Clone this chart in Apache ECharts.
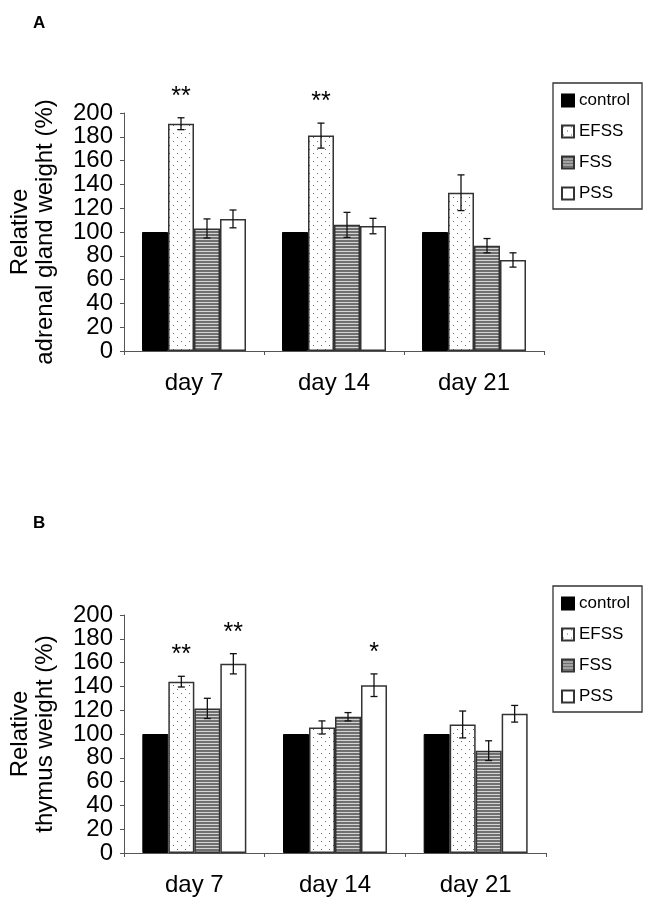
<!DOCTYPE html>
<html>
<head>
<meta charset="utf-8">
<script src="https://cdn.jsdelivr.net/npm/echarts@6/dist/echarts.min.js"></script>
<style>html,body{margin:0;padding:0;background:#fff}#c{width:650px;height:908px}</style>
</head>
<body>
<div id="c"></div>
<script>
// ---------- data ----------
const categories = ['day 7', 'day 14', 'day 21'];
const seriesNames = ['control', 'EFSS', 'FSS', 'PSS'];
const yTicks = [0, 20, 40, 60, 80, 100, 120, 140, 160, 180, 200];

// Panel A: relative adrenal gland weight (%)
const A_control = [100, 100, 100];
const A_EFSS = [191, 181, 133];
const A_EFSS_err = [5, 10.5, 15];
const A_FSS = [103, 106, 88.5];
const A_FSS_err = [8, 10.5, 6];
const A_PSS = [111, 105, 76.5];
const A_PSS_err = [7.5, 6.5, 6];
const A_EFSS_sig = ['**', '**', ''];
const A_FSS_sig = ['', '', ''];
const A_PSS_sig = ['', '', ''];

// Panel B: relative thymus weight (%)
const B_control = [100, 100, 100];
const B_EFSS = [144, 105.5, 108];
const B_EFSS_err = [4.5, 5.5, 11.3];
const B_FSS = [121.5, 114.5, 86];
const B_FSS_err = [8.5, 3.5, 8.3];
const B_PSS = [159, 141, 117];
const B_PSS_err = [8.5, 9.5, 7];
const B_EFSS_sig = ['**', '', ''];
const B_FSS_sig = ['', '', ''];
const B_PSS_sig = ['**', '*', ''];

// ---------- styles ----------
const FONT = '"Liberation Sans", Arial, sans-serif';
const BAR_W = 26;
const AXIS_COLOR = '#555';

function makeDots() {
  const c = document.createElement('canvas');
  c.width = 8; c.height = 8;
  const g = c.getContext('2d');
  g.fillStyle = '#fff'; g.fillRect(0, 0, 8, 8);
  g.fillStyle = '#6a6a6a';
  g.fillRect(1, 1, 1, 1);
  g.fillRect(5, 5, 1, 1);
  return c;
}
function makeStripes() {
  const c = document.createElement('canvas');
  c.width = 4; c.height = 3;
  const g = c.getContext('2d');
  g.fillStyle = '#d4d4d4'; g.fillRect(0, 0, 4, 3);
  g.fillStyle = '#707070'; g.fillRect(0, 0, 4, 2);
  return c;
}
const dotPattern = { image: makeDots(), repeat: 'repeat' };
const stripePattern = { image: makeStripes(), repeat: 'repeat' };

const barStyles = [
  { color: '#000', borderColor: '#000', borderWidth: 1 },
  { color: dotPattern, borderColor: '#333', borderWidth: 1.5 },
  { color: stripePattern, borderColor: '#333', borderWidth: 1.5 },
  { color: '#fff', borderColor: '#333', borderWidth: 1.5 }
];

function barSeries(panel, values) {
  return values.map((vals, k) => ({
    name: seriesNames[k],
    type: 'bar',
    xAxisIndex: panel, yAxisIndex: panel,
    barWidth: BAR_W, barGap: '0%',
    data: vals,
    itemStyle: barStyles[k],
    emphasis: { disabled: true },
    animation: false
  }));
}

function errSeries(panel, groups) {
  const data = [];
  const sigs = [];
  groups.forEach(gr => {
    gr.vals.forEach((v, i) => {
      data.push([i, v, gr.errs[i], gr.k]);
      sigs.push(gr.sigs[i]);
    });
  });
  return {
    type: 'custom',
    xAxisIndex: panel, yAxisIndex: panel,
    z: 5,
    animation: false,
    silent: true,
    encode: { x: 0, y: 1 },
    data: data,
    renderItem: function (params, api) {
      const c = api.value(0), v = api.value(1), e = api.value(2), k = api.value(3);
      const off = (k - 1.5) * BAR_W;
      const t = api.coord([c, v + e]);
      const b = api.coord([c, v - e]);
      const x = t[0] + off;
      const cap = 3.5;
      const ls = { stroke: '#111', lineWidth: 1.3 };
      const children = [
        { type: 'line', shape: { x1: x, y1: t[1], x2: x, y2: b[1] }, style: ls },
        { type: 'line', shape: { x1: x - cap, y1: t[1], x2: x + cap, y2: t[1] }, style: ls },
        { type: 'line', shape: { x1: x - cap, y1: b[1], x2: x + cap, y2: b[1] }, style: ls }
      ];
      const s = sigs[params.dataIndex];
      if (s) {
        children.push({
          type: 'text', x: x, y: t[1] - 21,
          style: { text: s, fill: '#000', fontSize: 25, fontFamily: FONT, align: 'center', verticalAlign: 'middle' }
        });
      }
      return { type: 'group', children: children };
    }
  };
}

function xAxis(panel) {
  return {
    type: 'category', gridIndex: panel, data: categories,
    axisLine: { lineStyle: { color: AXIS_COLOR, width: 1 } },
    axisTick: { show: true, length: 4, alignWithLabel: false, lineStyle: { color: AXIS_COLOR } },
    axisLabel: { color: '#000', fontSize: 24, fontFamily: FONT, margin: 20 },
    splitLine: { show: false }
  };
}
// value axis carrying the bars, the axis line, ticks and the name
function yAxis(panel, name) {
  return {
    type: 'value', gridIndex: panel, min: yTicks[0], max: yTicks[yTicks.length - 1], interval: 20,
    name: name, nameLocation: 'middle', nameGap: 66,
    nameTextStyle: { color: '#000', fontSize: 24, lineHeight: 25, fontFamily: FONT },
    axisLine: { show: true, lineStyle: { color: AXIS_COLOR, width: 1 } },
    axisTick: { show: true, length: 4, lineStyle: { color: AXIS_COLOR } },
    axisLabel: { show: false },
    splitLine: { show: false }
  };
}
// companion axis on the same grid that shows every tick label (no overlap hiding)
function yLabelAxis(panel) {
  return {
    type: 'category', gridIndex: panel, data: yTicks.map(String), boundaryGap: false,
    position: 'left', offset: 0,
    axisLine: { show: false },
    axisTick: { show: false },
    axisLabel: { interval: 0, color: '#000', fontSize: 24, fontFamily: FONT, margin: 11 },
    splitLine: { show: false }
  };
}
function legend(top) {
  return {
    data: seriesNames, orient: 'vertical', left: 553, top: top,
    icon: 'rect', itemWidth: 12, itemHeight: 12, itemGap: 14,
    padding: [9, 12, 7, 8],
    borderColor: '#333', borderWidth: 1.3,
    textStyle: { color: '#000', fontSize: 17, fontFamily: FONT },
    selectedMode: false
  };
}

const option = {
  backgroundColor: '#fff',
  animation: false,
  title: [
    { text: 'A', left: 28, top: 10, textStyle: { fontSize: 17, fontWeight: 'bold', fontFamily: FONT, color: '#000' } },
    { text: 'B', left: 28, top: 510, textStyle: { fontSize: 17, fontWeight: 'bold', fontFamily: FONT, color: '#000' } }
  ],
  grid: [
    { left: 120, right: 106, top: 113, height: 238 },
    { left: 120, right: 104, top: 615, height: 238 }
  ],
  legend: [legend(83), legend(586)],
  xAxis: [xAxis(0), xAxis(1)],
  yAxis: [
    yAxis(0, 'Relative\nadrenal gland weight (%)'),
    yAxis(1, 'Relative\nthymus weight (%)'),
    yLabelAxis(0),
    yLabelAxis(1)
  ],
  series: [
    ...barSeries(0, [A_control, A_EFSS, A_FSS, A_PSS]),
    errSeries(0, [
      { k: 1, vals: A_EFSS, errs: A_EFSS_err, sigs: A_EFSS_sig },
      { k: 2, vals: A_FSS, errs: A_FSS_err, sigs: A_FSS_sig },
      { k: 3, vals: A_PSS, errs: A_PSS_err, sigs: A_PSS_sig }
    ]),
    ...barSeries(1, [B_control, B_EFSS, B_FSS, B_PSS]),
    errSeries(1, [
      { k: 1, vals: B_EFSS, errs: B_EFSS_err, sigs: B_EFSS_sig },
      { k: 2, vals: B_FSS, errs: B_FSS_err, sigs: B_FSS_sig },
      { k: 3, vals: B_PSS, errs: B_PSS_err, sigs: B_PSS_sig }
    ])
  ]
};

const chart = echarts.init(document.getElementById('c'), null, { renderer: 'canvas' });
chart.setOption(option);
</script>
</body>
</html>
